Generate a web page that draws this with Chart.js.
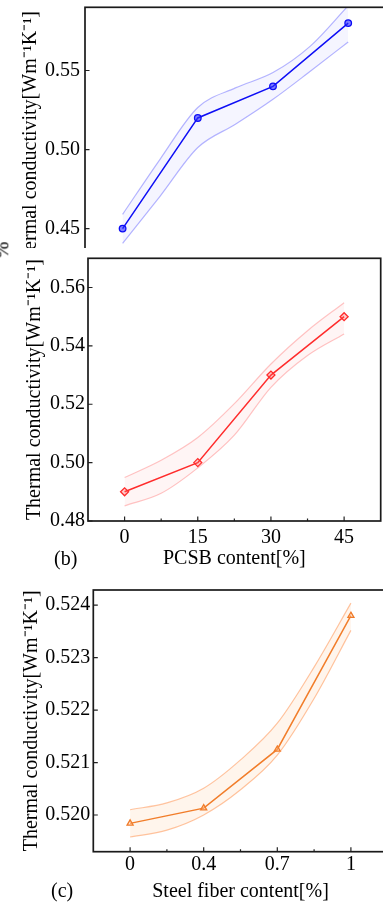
<!DOCTYPE html>
<html>
<head>
<meta charset="utf-8">
<script src="https://cdn.jsdelivr.net/npm/chart.js@4/dist/chart.umd.min.js"></script>
<style>
html,body{margin:0;padding:0;background:#fff;width:383px;height:905px;overflow:hidden;position:relative}
.clip{position:absolute;left:0;overflow:hidden;width:383px}
canvas{display:block}
.lbl{position:absolute;font-family:'Liberation Serif','Times New Roman',serif;font-size:20px;color:#000;line-height:20px;white-space:nowrap}
</style>
</head>
<body>
<div class="clip" style="top:0;height:248px"><canvas id="ca" width="400" height="300"></canvas></div>
<div class="clip" style="top:248px;height:332px"><canvas id="cb" width="400" height="332"></canvas></div>
<div class="clip" style="top:580px;height:325px"><canvas id="cc" width="400" height="325"></canvas></div>
<div class="lbl" style="left:54px;top:548px">(b)</div>
<div class="lbl" style="left:51px;top:880px">(c)</div>
<div class="lbl" style="left:-7px;top:240px;transform:rotate(-90deg);transform-origin:50% 50%">%</div>
<script>
// ---------- data ----------
const pcsbContent = [0, 15, 30, 45];
const pcsbTickLabels = ['0', '15', '30', '45'];
const pcsbMinorTicks = [7.5, 22.5, 37.5];
const bandXPcsb = [0, 7.5, 15, 22.5, 30, 37.5, 45];

const conductivityA = [0.45, 0.52, 0.54, 0.58];
const bandUpperA = [0.459, 0.494, 0.5266, 0.539, 0.5487, 0.5656, 0.591];
const bandLowerA = [0.4407, 0.4706, 0.5013, 0.516, 0.5318, 0.5497, 0.5681];
const yTicksA = [0.45, 0.50, 0.55];
const yTickLabelsA = ['0.45', '0.50', '0.55'];

const conductivityB = [0.49, 0.50, 0.53, 0.55];
const bandUpperB = [0.4949, 0.5008, 0.5086, 0.5202, 0.5338, 0.5452, 0.5548];
const bandLowerB = [0.4852, 0.4895, 0.4982, 0.5094, 0.5258, 0.5367, 0.5441];
const yTicksB = [0.48, 0.50, 0.52, 0.54, 0.56];
const yTickLabelsB = ['0.48', '0.50', '0.52', '0.54', '0.56'];

const fiberContent = ['0', '0.4', '0.7', '1'];
const fiberIndex = [0, 1, 2, 3];
const fiberMinorTicks = [0.5, 1.5, 2.5];
const bandXFiber = [0, 0.5, 1, 1.5, 2, 2.5, 3];
const conductivityC = [0.51984, 0.52013, 0.52125, 0.52380];
const bandUpperC = [0.52010, 0.52023, 0.52051, 0.52105, 0.52175, 0.52282, 0.52404];
const bandLowerC = [0.51958, 0.51971, 0.52000, 0.52048, 0.52114, 0.52222, 0.52352];
const yTicksC = [0.520, 0.521, 0.522, 0.523, 0.524];
const yTickLabelsC = ['0.520', '0.521', '0.522', '0.523', '0.524'];

const yTitle = 'Thermal conductivity[Wm\u207B\u00B9K\u207B\u00B9]';
const FONT = "'Liberation Serif','Times New Roman',serif";

// ---------- helpers ----------
const pts = (xs, ys) => xs.map((x, i) => ({x: x, y: ys[i]}));

const frameTicks = {
  id: 'frameTicks',
  afterDraw(chart, args, o) {
    const {ctx, chartArea: a, scales: {x, y}} = chart;
    ctx.save();
    ctx.strokeStyle = '#222';
    ctx.lineWidth = 1.2;
    ctx.beginPath();
    (o.xMajor || []).forEach(v => { const p = x.getPixelForValue(v); ctx.moveTo(p, a.bottom); ctx.lineTo(p, a.bottom - 4.5); });
    (o.xMinor || []).forEach(v => { const p = x.getPixelForValue(v); ctx.moveTo(p, a.bottom); ctx.lineTo(p, a.bottom - 2.5); });
    (o.yMajor || []).forEach(v => { const p = y.getPixelForValue(v); ctx.moveTo(a.left, p); ctx.lineTo(a.left + 4.5, p); });
    ctx.stroke();
    ctx.lineWidth = 1.7;
    ctx.strokeStyle = '#1a1a1a';
    ctx.strokeRect(a.left, a.top, a.right - a.left, a.bottom - a.top);
    ctx.restore();
  }
};

function panel(id, p) {
  new Chart(document.getElementById(id), {
    type: 'line',
    data: {
      datasets: [
        {data: pts(p.bandX, p.upper), borderColor: p.bandLine, backgroundColor: p.bandFill, borderWidth: 1.2,
         pointRadius: 0, fill: '+1', cubicInterpolationMode: 'monotone'},
        {data: pts(p.bandX, p.lower), borderColor: p.bandLine, borderWidth: 1.2,
         pointRadius: 0, fill: false, cubicInterpolationMode: 'monotone'},
        {data: pts(p.xs, p.ys), borderColor: p.color, borderWidth: 1.5, fill: false, tension: 0,
         pointStyle: p.pointStyle, pointRadius: p.pointRadius, pointBorderWidth: 1.3,
         pointBorderColor: p.color, pointBackgroundColor: p.pointFill}
      ]
    },
    plugins: [frameTicks],
    options: {
      responsive: false,
      animation: false,
      events: [],
      layout: {padding: {left: 0, top: p.padTop, right: p.padRight, bottom: 0}},
      plugins: {
        legend: {display: false},
        tooltip: {enabled: false},
        frameTicks: {xMajor: p.xTicks, xMinor: p.xMinor, yMajor: p.yTicks}
      },
      scales: {
        x: {
          type: 'linear', min: p.xMin, max: p.xMax,
          grid: {display: false, drawTicks: false},
          border: {display: false},
          afterBuildTicks: s => { s.ticks = p.xTicks.map(v => ({value: v})); },
          afterFit: s => { s.height = p.xHeight; s.paddingLeft = 0; s.paddingRight = 0; },
          ticks: {display: p.showX, padding: p.xPad, color: '#000', font: {family: FONT, size: 20},
                  maxRotation: 0, autoSkip: false, callback: (v, i) => p.xLabels[i]},
          title: {display: !!p.xTitle, text: p.xTitle, color: '#000', font: {family: FONT, size: 20},
                  padding: {top: 0, bottom: p.xTitlePad}}
        },
        y: {
          type: 'linear', min: p.yMin, max: p.yMax,
          grid: {display: false, drawTicks: false},
          border: {display: false},
          afterBuildTicks: s => { s.ticks = p.yTicks.map(v => ({value: v})); },
          afterFit: s => { s.width = p.yWidth; s.paddingTop = 0; s.paddingBottom = 0; },
          ticks: {padding: p.yPad, color: '#000', font: {family: FONT, size: 20}, autoSkip: false,
                  callback: (v, i) => p.yLabels[i]},
          title: {display: true, text: yTitle, color: '#000', font: {family: FONT, size: 20},
                  padding: {top: p.yTitlePad, bottom: 0}}
        }
      }
    }
  });
}

panel('ca', {
  xs: pcsbContent, ys: conductivityA, bandX: bandXPcsb, upper: bandUpperA, lower: bandLowerA,
  color: '#0a0af5', bandLine: 'rgba(110,110,255,0.5)', bandFill: 'rgba(90,90,255,0.06)',
  pointStyle: 'circle', pointRadius: 3.3, pointFill: 'rgba(40,40,255,0.6)',
  xMin: -7.5, xMax: 52.5, xTicks: pcsbContent, xMinor: pcsbMinorTicks, xLabels: pcsbTickLabels,
  yMin: 0.42, yMax: 0.59, yTicks: yTicksA, yLabels: yTickLabelsA,
  padTop: 7.3, padRight: 14.2, xHeight: 24, showX: false, xPad: 4, xTitle: '', xTitlePad: 0,
  yWidth: 85, yPad: 5, yTitlePad: 18.5
});

panel('cb', {
  xs: pcsbContent, ys: conductivityB, bandX: bandXPcsb, upper: bandUpperB, lower: bandLowerB,
  color: '#ff2a2a', bandLine: 'rgba(255,90,90,0.35)', bandFill: 'rgba(255,80,80,0.06)',
  pointStyle: 'rectRot', pointRadius: 4, pointFill: 'rgba(255,90,90,0.3)',
  xMin: -7.5, xMax: 52.5, xTicks: pcsbContent, xMinor: pcsbMinorTicks, xLabels: pcsbTickLabels,
  yMin: 0.48, yMax: 0.57, yTicks: yTicksB, yLabels: yTickLabelsB,
  padTop: 10.3, padRight: 19.3, xHeight: 59, showX: true, xPad: 4.5, xTitle: 'PCSB content[%]', xTitlePad: 9.5,
  yWidth: 88, yPad: 3, yTitlePad: 23
});

panel('cc', {
  xs: fiberIndex, ys: conductivityC, bandX: bandXFiber, upper: bandUpperC, lower: bandLowerC,
  color: '#f07a28', bandLine: 'rgba(255,140,70,0.5)', bandFill: 'rgba(255,160,70,0.1)',
  pointStyle: 'triangle', pointRadius: 3.5, pointFill: 'rgba(255,200,160,0.4)',
  xMin: -0.5, xMax: 3.5, xTicks: fiberIndex, xMinor: fiberMinorTicks, xLabels: fiberContent,
  yMin: 0.5193, yMax: 0.52429, yTicks: yTicksC, yLabels: yTickLabelsC,
  padTop: 10, padRight: 12.3, xHeight: 53.3, showX: true, xPad: 1.5, xTitle: 'Steel fiber content[%]', xTitlePad: 1.3,
  yWidth: 93.3, yPad: 3, yTitlePad: 19.6
});
</script>
</body>
</html>
